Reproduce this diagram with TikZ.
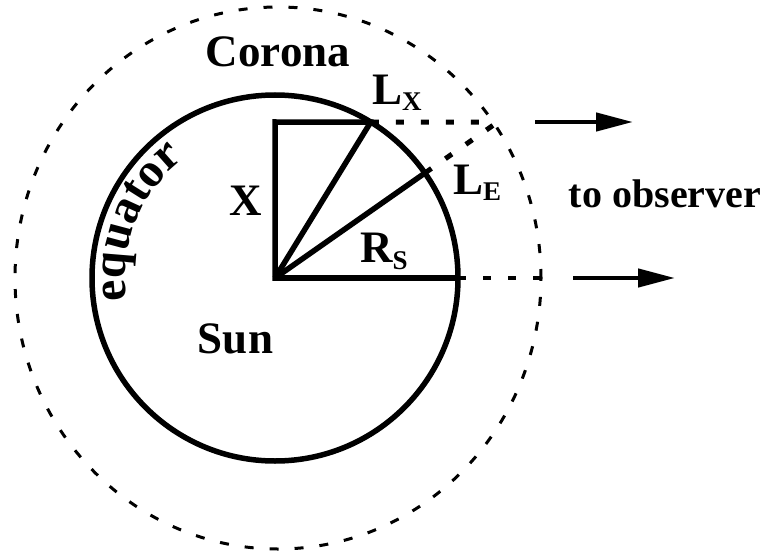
\documentclass[tikz,border=0pt]{standalone}
\usepackage{fontspec}
\setmainfont{Liberation Serif}
\usetikzlibrary{arrows.meta,decorations.text,calc}
\begin{document}
\begin{tikzpicture}[x=1pt,y=1pt,
  lbl/.style={font=\fontsize{45}{45}\selectfont\bfseries, inner sep=0pt},
  subl/.style={font=\fontsize{40}{40}\selectfont\bfseries, inner sep=0pt},
  solidline/.style={line width=5.5pt},
  dotline/.style={line width=5pt, dash pattern=on 8pt off 17pt},
  coronaline/.style={line width=3pt, dash pattern=on 9pt off 16pt},
  obsarrow/.style={line width=4.5pt, -{Triangle[length=37pt,width=18pt]}}
]
\useasboundingbox (0,0) rectangle (768,558);
\newcommand{\sbs}[1]{\raisebox{-5pt}{\fontsize{27}{27}\selectfont #1}}
% centres
\coordinate (O) at (275,280);
\coordinate (C) at (278,280);
% sun and corona
\draw[solidline] (O) circle[radius=183pt];
\draw[coronaline] (C) ellipse[x radius=263pt, y radius=271pt];
% points
\coordinate (LX) at ($(O)+(58.45:183pt)$);
\coordinate (Top) at (275,436);
\coordinate (LE) at ($(O)+(35:183pt)$);
\coordinate (LEout) at ($(O)+(35:266pt)$);
\coordinate (LXout) at (492,436);
\coordinate (RS) at (458,280);
\coordinate (RSout) at (541,280);
\coordinate (A1s) at (535,436);
\coordinate (A1e) at (633,436);
\coordinate (A2s) at (573,280);
\coordinate (A2e) at (675,280);
% solid construction lines
\draw[solidline, line cap=rect] (O) -- (Top) -- (LX);
\draw[solidline] (O) -- (LX);
\draw[solidline] (O) -- (LE);
\draw[solidline] (O) -- (RS);
% dotted extensions
\draw[dotline] (LX) -- (LXout);
\draw[dotline] (LE) -- (LEout);
\draw[dotline, line width=4.5pt] (RS) -- (RSout);
% arrows
\draw[obsarrow] (A1s) -- (A1e);
\draw[obsarrow] (A2s) -- (A2e);
% labels
\node[lbl, anchor=base] (corona) at (278,491) {Corona};
\node[lbl, anchor=base west] (lx) at (372,453) {L\sbs{X}};
\node[lbl, anchor=base west] (le) at (453,363) {L\sbs{E}};
\node[lbl, anchor=base west] (rs) at (360,296) {R\raisebox{-7pt}{\fontsize{27}{27}\selectfont S}};
\node[lbl, anchor=base] (x) at (246,343) {X};
\node[lbl, anchor=base] (sun) at (235.5,205) {Sun};
\node[subl, anchor=base] (obs) at (665,351) {to observer};
\path[decorate, decoration={text along path, text align=center,
  text={|\fontsize{48}{48}\selectfont\bfseries|equator}}]
  ($(O)+(190:150pt)$) arc[start angle=190, end angle=126, radius=150pt];
\end{tikzpicture}
\end{document}
